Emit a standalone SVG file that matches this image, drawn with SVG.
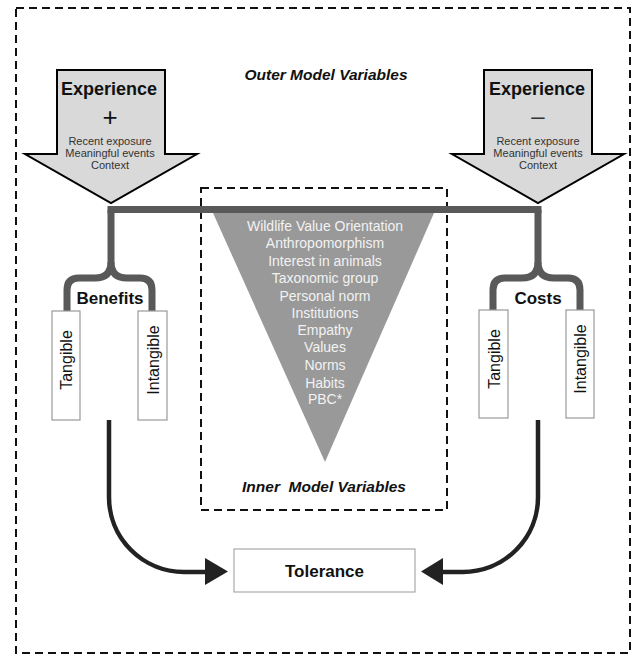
<svg xmlns="http://www.w3.org/2000/svg" width="633" height="655" viewBox="0 0 633 655">
<style>
.dash{fill:none;stroke:#111;stroke-width:2;stroke-dasharray:8 5}
.exp{fill:#d9d9d9;stroke:#000;stroke-width:2;stroke-linejoin:miter}
.t{font-family:"Liberation Sans",Arial,sans-serif;text-anchor:middle}
.big{font-size:18px;font-weight:bold;fill:#111}
.sm{font-size:11px;fill:#333}
.ttl{font-size:15.5px;font-weight:bold;font-style:italic;fill:#111;white-space:pre}
.brace{fill:none;stroke:#595959;stroke-width:7}
.box{fill:#fff;stroke:#999;stroke-width:1.2}
.lbl{font-size:16px;fill:#111}
.inner{font-size:14px;fill:#f2f2f2}
.conn{fill:none;stroke:#222;stroke-width:4.5}
</style>
<rect class="dash" x="16" y="8" width="614" height="645"/>
<text class="t ttl" x="326" y="80">Outer Model Variables</text>

<g id="inner-box">
<rect class="dash" x="201" y="188" width="246" height="322"/>
<polygon points="213,213 434,213 325,462" fill="#999"/>
<g class="t inner">
<text x="325" y="231">Wildlife Value Orientation</text>
<text x="325" y="248">Anthropomorphism</text>
<text x="325" y="266">Interest in animals</text>
<text x="325" y="283">Taxonomic group</text>
<text x="325" y="301">Personal norm</text>
<text x="325" y="318">Institutions</text>
<text x="325" y="335">Empathy</text>
<text x="325" y="352">Values</text>
<text x="325" y="370">Norms</text>
<text x="325" y="388">Habits</text>
<text x="325" y="404">PBC*</text>
</g>
<text class="t ttl" x="324" y="492">Inner  Model Variables</text>
</g>

<g id="exp-pos">
<polygon class="exp" points="57,70 165,70 165,154 197,154 111,203 25,154 57,154"/>
<text class="t big" x="109" y="95">Experience</text>
<text class="t" x="110" y="126" style="font-size:26px;fill:#111">+</text>
<text class="t sm" x="110" y="145">Recent exposure</text>
<text class="t sm" x="110" y="157">Meaningful events</text>
<text class="t sm" x="110" y="169">Context</text>
</g>

<g id="exp-neg">
<polygon class="exp" points="484,70 592,70 592,154 624,154 538,203 452,154 484,154"/>
<text class="t big" x="537" y="95">Experience</text>
<text class="t" x="538" y="124" style="font-size:24px;fill:#333">–</text>
<text class="t sm" x="538" y="145">Recent exposure</text>
<text class="t sm" x="538" y="157">Meaningful events</text>
<text class="t sm" x="538" y="169">Context</text>
</g>

<g id="connectors">
<rect x="107.5" y="206" width="434" height="7" fill="#595959"/>
<path class="brace" d="M111,210 V262 Q111,278 95,278 H79 Q67,278 67,290 V311"/>
<path class="brace" d="M111,262 Q111,278 127,278 H140 Q152,278 152,290 V311"/>
<path class="brace" d="M538,210 V262 Q538,278 522,278 H505 Q493,278 493,290 V311"/>
<path class="brace" d="M538,262 Q538,278 554,278 H568 Q580,278 580,290 V311"/>
<path class="conn" d="M109,420 V497 A75,75 0 0 0 184,572 H208"/>
<polygon points="205,558 228,571.5 205,585" fill="#222"/>
<path class="conn" d="M538,420 V497 A75,75 0 0 1 463,572 H441"/>
<polygon points="443,558 421,571.5 443,585" fill="#222"/>
</g>

<g id="benefits">
<text class="t" x="110" y="304" style="font-size:17px;font-weight:bold;fill:#111">Benefits</text>
</g>
<g id="ben-tangible">
<rect class="box" x="52" y="311" width="28" height="109"/>
<text class="t lbl" transform="translate(66,360) rotate(-90)" y="6">Tangible</text>
</g>
<g id="ben-intangible">
<rect class="box" x="138" y="311" width="29" height="109"/>
<text class="t lbl" transform="translate(152.5,360) rotate(-90)" y="6">Intangible</text>
</g>

<g id="costs">
<text class="t" x="538" y="304" style="font-size:17px;font-weight:bold;fill:#111">Costs</text>
</g>
<g id="cost-tangible">
<rect class="box" x="479" y="310" width="29" height="108"/>
<text class="t lbl" transform="translate(493.5,359) rotate(-90)" y="6">Tangible</text>
</g>
<g id="cost-intangible">
<rect class="box" x="566" y="310" width="28" height="108"/>
<text class="t lbl" transform="translate(580,359) rotate(-90)" y="6">Intangible</text>
</g>

<g id="tolerance">
<rect class="box" x="234" y="549" width="181" height="43" style="stroke:#aaa"/>
<text class="t" x="324.5" y="577" style="font-size:17px;font-weight:bold;fill:#111">Tolerance</text>
</g>
</svg>
